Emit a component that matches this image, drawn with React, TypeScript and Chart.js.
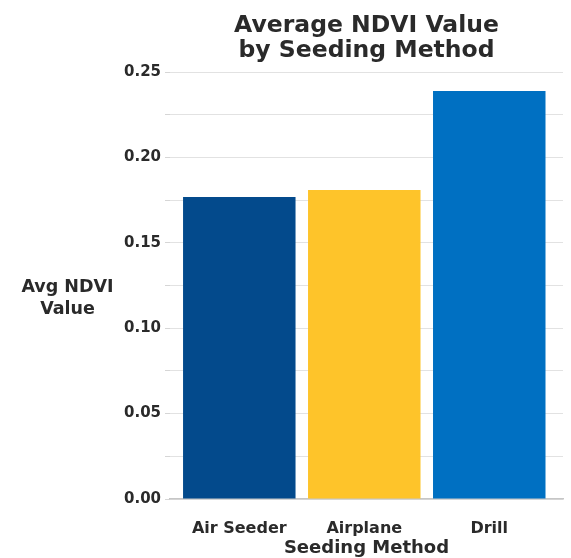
import React, { useEffect, useRef } from "react";
import { Chart, registerables } from "chart.js";

Chart.register(...registerables);

const categories = ["Air Seeder", "Airplane", "Drill"];
const avgNdvi = [0.1768, 0.1809, 0.2389];
const barColors = ["#034A8C", "#FEC42A", "#0070C2"];
const yTickLabels = ["0.00", "0.05", "0.10", "0.15", "0.20", "0.25"];
const titleLines = ["Average NDVI Value", "by Seeding Method"];
const yAxisTitleLines = ["Avg NDVI", "Value"];
const xAxisTitle = "Seeding Method";

const FONT = '"DejaVu Sans", sans-serif';
const TEXT = "#2a2a2a";

const yTitlePlugin = {
  id: "yTitleHorizontal",
  afterDraw(chart: any) {
    const ctx = chart.ctx;
    ctx.save();
    ctx.font = `bold 17.5px ${FONT}`;
    ctx.fillStyle = TEXT;
    ctx.textAlign = "center";
    ctx.textBaseline = "alphabetic";
    const cx = 67.5;
    ctx.fillText(yAxisTitleLines[0], cx, 292);
    ctx.fillText(yAxisTitleLines[1], cx, 314);
    ctx.restore();
  },
};

export default function App() {
  const ref = useRef<HTMLCanvasElement | null>(null);
  useEffect(() => {
    if (!ref.current) return;
    const chart = new Chart(ref.current, {
      type: "bar",
      data: {
        datasets: [
          {
            data: avgNdvi.map((v, i) => ({ x: i, y: v })),
            backgroundColor: barColors,
            borderWidth: 0,
            barPercentage: 0.9,
            categoryPercentage: 1,
          },
        ],
      },
      options: {
        responsive: false,
        devicePixelRatio: 1,
        animation: false,
        layout: { padding: { left: 0, right: 8, top: 0, bottom: 0 } },
        plugins: {
          legend: { display: false },
          tooltip: { enabled: false },
          title: {
            display: true,
            text: titleLines,
            fullSize: false,
            color: TEXT,
            font: { family: FONT, size: 23.5, weight: "bold", lineHeight: 1.1 },
            padding: { top: 12.5, bottom: 7.8 },
          },
        },
        scales: {
          x: {
            type: "linear",
            offset: false,
            min: -0.5544,
            max: 2.59,
            afterFit(scale: any) {
              scale.height = 59;
            },
            afterBuildTicks(scale: any) {
              scale.ticks = categories.map((_, i) => ({ value: i }));
            },
            grid: { display: false, drawTicks: false },
            border: { display: true, color: "#c6c6c6", width: 1.5 },
            ticks: {
              autoSkip: false,
              maxRotation: 0,
              padding: 20,
              color: TEXT,
              font: { family: FONT, size: 16, weight: "bold" },
              callback: (v: any) => categories[Math.round(Number(v))] ?? "",
            },
            title: {
              display: true,
              text: xAxisTitle,
              color: TEXT,
              font: { family: FONT, size: 18, weight: "bold", lineHeight: 1.1 },
              padding: { top: 0, bottom: 0 },
            },
          },
          y: {
            min: 0,
            max: 0.25,
            afterFit(scale: any) {
              scale.width = 170;
            },
            grid: {
              color: "#e2e2e2",
              lineWidth: 1,
              drawTicks: true,
              tickLength: 5,
              tickColor: "#d6d6d6",
            },
            border: { display: false },
            ticks: {
              stepSize: 0.025,
              padding: 4,
              color: TEXT,
              font: { family: FONT, size: 15, weight: "bold" },
              callback: (v: any) => {
                const k = Number(v) / 0.05;
                const r = Math.round(k);
                return Math.abs(k - r) < 1e-6 ? yTickLabels[r] ?? "" : "";
              },
            },
          },
        },
      },
      plugins: [yTitlePlugin],
    } as any);
    return () => chart.destroy();
  }, []);
  return (
    <div style={{ position: "absolute", left: 0, top: 0, width: 571, height: 558, background: "#fff" }}>
      <canvas ref={ref} width={571} height={558} />
    </div>
  );
}
